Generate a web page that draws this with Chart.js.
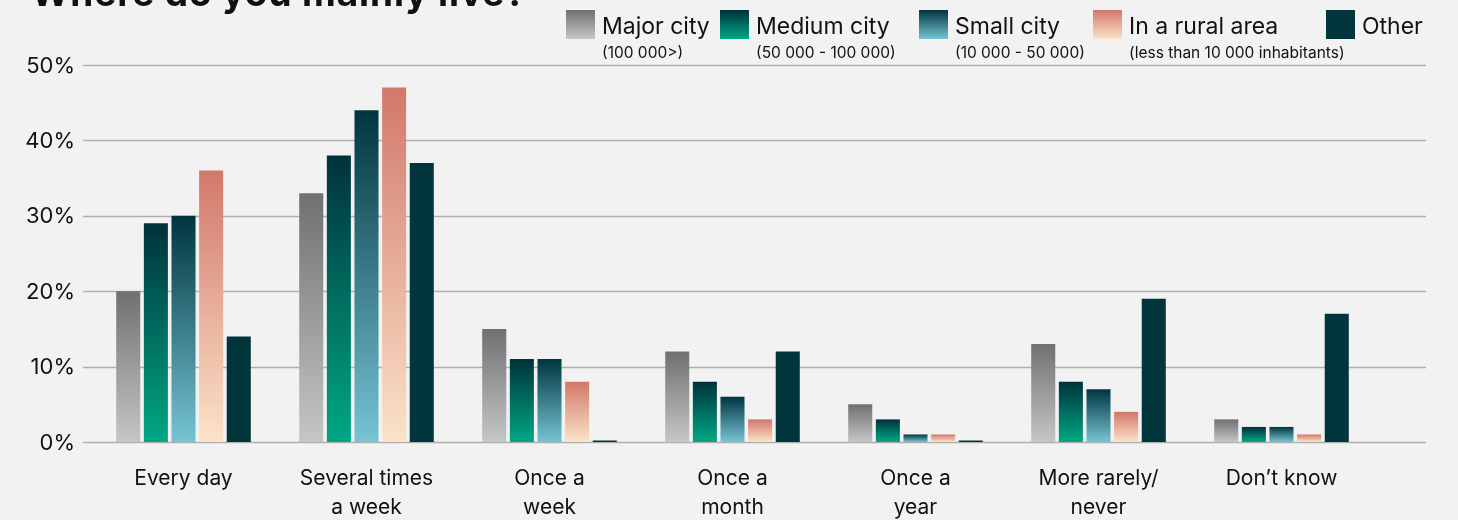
<!DOCTYPE html>
<html>
<head>
<meta charset="utf-8">
<script src="https://cdn.jsdelivr.net/npm/chart.js@4"></script>
<style>
    html, body { margin: 0; padding: 0; background: #f2f2f2; }
    #wrap { position: relative; width: 1458px; height: 520px; overflow: hidden; font-family: Inter, 'Noto Sans', sans-serif; color: #111; }
    #title { position: absolute; left: 31px; top: -27px; font-size: 37px; font-weight: 700; line-height: 40px; white-space: nowrap; letter-spacing: 0.9px; }
    .item { position: absolute; top: 10px; }
    .swatch { position: absolute; left: 0; top: 0; width: 29px; height: 29px; }
    .name { position: absolute; left: 36px; top: 2px; font-size: 23px; line-height: 28px; white-space: nowrap; }
    .sub { position: absolute; left: 36px; top: 34px; font-size: 15.5px; line-height: 18px; white-space: nowrap; }
    canvas { position: absolute; left: 0; top: 0; }
</style>
</head>
<body>
<div id="wrap">
    <canvas id="chart" width="1458" height="520"></canvas>
    <div id="title">Where do you mainly live?</div>
    <div id="legend"></div>
</div>
<script>
// ===== DATA =====
const categories = [
    ['Every day'],
    ['Several times', 'a week'],
    ['Once a', 'week'],
    ['Once a', 'month'],
    ['Once a', 'year'],
    ['More rarely/', 'never'],
    ['Don’t know']
];

const seriesNames = ['Major city', 'Medium city', 'Small city', 'In a rural area', 'Other'];
const seriesNotes = ['(100 000>)', '(50 000 - 100 000)', '(10 000 - 50 000)', '(less than 10 000 inhabitants)', ''];

const majorCity  = [20, 33, 15, 12, 5, 13, 3];
const mediumCity = [29, 38, 11, 8, 3, 8, 2];
const smallCity  = [30, 44, 11, 6, 1, 7, 2];
const ruralArea  = [36, 47, 8, 3, 1, 4, 1];
const other      = [14, 37, 0.2, 12, 0.2, 19, 17];

const yTicks = [0, 10, 20, 30, 40, 50];

// gradient colours, top -> bottom
const topColors    = ['#6f7072', '#00323a', '#00353f', '#d2786a', '#00353b'];
const bottomColors = ['#c5c6c8', '#00a884', '#76c4d4', '#fbe3c9', '#00353b'];

// legend placement (left of each swatch)
const legendLeft = [566, 720, 919, 1093, 1326];

// ===== CHART =====
function barGradient(context, i) {
    const chart = context.chart;
    if (!chart.chartArea || !chart.scales.y) return bottomColors[i];
    if (topColors[i] === bottomColors[i]) return topColors[i];
    const y = chart.scales.y;
    const yTop = y.getPixelForValue(context.raw);
    const yBot = y.getPixelForValue(0);
    if (!isFinite(yTop) || yBot - yTop < 0.5) return topColors[i];
    const g = chart.ctx.createLinearGradient(0, yTop, 0, yBot);
    g.addColorStop(0, topColors[i]);
    g.addColorStop(1, bottomColors[i]);
    return g;
}

// horizontal grid lines that run wider than the category area
const wideGrid = {
    id: 'wideGrid',
    beforeDatasetsDraw(chart) {
        const y = chart.scales.y;
        const ctx = chart.ctx;
        ctx.save();
        ctx.strokeStyle = '#afafaf';
        ctx.lineWidth = 1.6;
        yTicks.forEach(v => {
            const py = Math.round(y.getPixelForValue(v)) + 0.5;
            ctx.beginPath();
            ctx.moveTo(83, py);
            ctx.lineTo(1426, py);
            ctx.stroke();
        });
        ctx.restore();
    }
};

const allValues = [majorCity, mediumCity, smallCity, ruralArea, other];

const datasets = allValues.map((values, i) => ({
    label: seriesNames[i],
    data: values,
    backgroundColor: ctx => barGradient(ctx, i),
    borderWidth: 0,
    categoryPercentage: 0.755,
    barPercentage: 0.87
}));

new Chart(document.getElementById('chart').getContext('2d'), {
    type: 'bar',
    data: { labels: categories, datasets: datasets },
    options: {
        responsive: false,
        animation: false,
        layout: { padding: { top: 65, right: 85, left: 0, bottom: 0 } },
        plugins: {
            legend: { display: false },
            tooltip: { enabled: false }
        },
        scales: {
            x: {
                grid: { display: false },
                border: { display: false },
                ticks: {
                    color: '#111',
                    font: { family: 'Inter', size: 21, lineHeight: 1.35 },
                    padding: 15,
                    maxRotation: 0,
                    autoSkip: false
                },
                afterFit: scale => { scale.height = 78; }
            },
            y: {
                min: 0,
                max: 50,
                grid: { display: false },
                border: { display: false },
                afterBuildTicks: scale => { scale.ticks = yTicks.map(v => ({ value: v })); },
                ticks: {
                    color: '#111',
                    font: { family: 'Inter', size: 22, lineHeight: 1.2 },
                    padding: 9,
                    labelOffset: 1,
                    callback: v => v + '%'
                },
                afterFit: scale => { scale.width = 92; }
            }
        }
    },
    plugins: [wideGrid]
});

// ===== LEGEND =====
const legend = document.getElementById('legend');
seriesNames.forEach((name, i) => {
    const item = document.createElement('div');
    item.className = 'item';
    item.style.left = legendLeft[i] + 'px';
    item.innerHTML =
        `<div class="swatch" style="background: linear-gradient(${topColors[i]}, ${bottomColors[i]})"></div>` +
        `<div class="name">${name}</div>` +
        (seriesNotes[i] ? `<div class="sub">${seriesNotes[i]}</div>` : '');
    legend.appendChild(item);
});
</script>
</body>
</html>
